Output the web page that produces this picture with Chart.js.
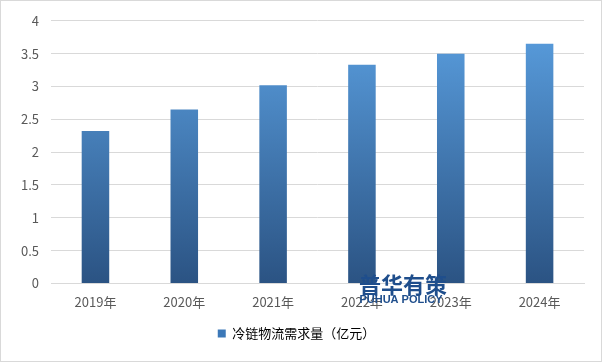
<!DOCTYPE html>
<html>
<head>
<meta charset="utf-8">
<script src="https://cdn.jsdelivr.net/npm/chart.js@4"></script>
<style>
  html, body { margin: 0; padding: 0; background: #fff; }
  #wrap { width: 600px; height: 360px; border: 1px solid #d9d9d9; position: relative; }
</style>
</head>
<body>
<div id="wrap"><canvas id="c" width="600" height="360"></canvas></div>
<script>
const years = ['2019年', '2020年', '2021年', '2022年', '2023年', '2024年'];
const demand = [2.32, 2.65, 3.02, 3.33, 3.50, 3.65];
const seriesName = '冷链物流需求量（亿元）';

const font = '"Noto Sans CJK SC", "Liberation Sans", sans-serif';

const watermark = {
    id: 'watermark',
    afterDatasetsDraw(chart) {
        const c = chart.ctx;
        c.save();
        c.fillStyle = '#1f4e8c';
        c.textAlign = 'center';
        c.font = 'bold 22px ' + font;
        c.fillText('普华有策', 402, 284);
        c.font = 'bold 11px "Liberation Sans", sans-serif';
        c.fillText('PUHUA POLICY', 400, 299);
        c.restore();
    }
};

new Chart(document.getElementById('c'), {
    type: 'bar',
    data: {
        labels: years,
        datasets: [{
            label: seriesName,
            data: demand,
            backgroundColor(ctx) {
                const area = ctx.chart.chartArea;
                if (!area) return '#4a86c8';
                const g = ctx.chart.ctx.createLinearGradient(0, area.top, 0, area.bottom);
                g.addColorStop(0, '#5a9fe0');
                g.addColorStop(1, '#2b5383');
                return g;
            },
            borderWidth: 0,
            barPercentage: 0.31,
            categoryPercentage: 1
        }]
    },
    options: {
        responsive: false,
        animation: false,
        layout: { padding: { left: 8, right: 17, top: 10, bottom: 11 } },
        plugins: {
            tooltip: { enabled: false },
            legend: {
                position: 'bottom',
                labels: {
                    font: { family: font, size: 13 },
                    color: '#595959',
                    boxWidth: 8,
                    boxHeight: 8,
                    padding: 14,
                    generateLabels: () => [{ text: seriesName, fillStyle: '#3c78b8', strokeStyle: '#3c78b8', lineWidth: 0 }]
                }
            }
        },
        scales: {
            x: {
                grid: { display: false },
                border: { color: '#d9d9d9' },
                ticks: { font: { family: font, size: 13 }, color: '#595959', padding: 3 }
            },
            y: {
                min: 0,
                max: 4,
                ticks: {
                    stepSize: 0.5,
                    callback: v => String(v),
                    font: { family: font, size: 13 },
                    color: '#595959',
                    padding: 12
                },
                grid: { color: '#d9d9d9', drawTicks: false },
                border: { display: false }
            }
        }
    },
    plugins: [watermark]
});
</script>
</body>
</html>
